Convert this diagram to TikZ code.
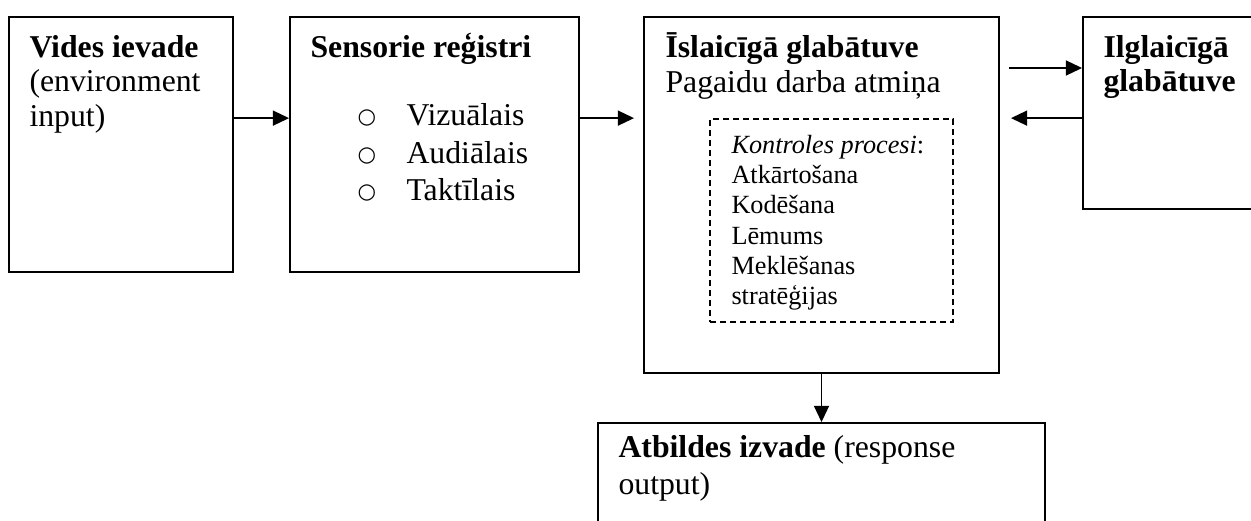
\documentclass[tikz,border=0pt]{standalone}
\usepackage{fontspec}
\setmainfont{Liberation Serif}
\newfontfamily\bulletfont{DejaVu Sans}
\usetikzlibrary{arrows.meta,fit}
\begin{document}
\begin{tikzpicture}[x=0.4pt,y=-0.4pt,
  box/.style={draw, line width=0.75pt, inner sep=0pt},
  dashbox/.style={draw, line width=0.7pt, inner sep=0pt, dash pattern=on 2.4pt off 1.6pt},
  txt/.style={anchor=base west, inner sep=0pt, font=\fontsize{12.7}{14}\selectfont},
  small/.style={anchor=base west, inner sep=0pt, font=\fontsize{10.5}{12}\selectfont},
  bul/.style={anchor=center, inner sep=0pt, font=\fontsize{8.5}{10}\bulletfont},
  arr/.style={-{Triangle[length=6.5pt,width=6pt]}, line width=0.7pt}]
\useasboundingbox (0,0) rectangle (1251,520);
\clip (0,0) rectangle (1251,520);
% boxes
\node[box, fit={(9,17)(233,272)}] (b1) {};
\node[box, fit={(290,17)(579,272)}] (b2) {};
\node[box, fit={(644,17)(999,373)}] (b3) {};
\node[dashbox, fit={(710,119)(953,322)}] (d) {};
\node[box, fit={(1083,17)(1275,209)}] (b4) {};
\node[box, fit={(598,423)(1045,545)}] (b5) {};
% box 1 text
\node[txt] (t11) at (29,57) {\textbf{Vides ievade}};
\node[txt] (t12) at (29,91) {(environment};
\node[txt] (t13) at (29,126) {input)};
% box 2 text
\node[txt] (t21) at (310,57) {\textbf{Sensorie reģistri}};
\node[bul] (o1) at (367,118) {○};
\node[bul] (o2) at (367,156) {○};
\node[bul] (o3) at (367,193) {○};
\node[txt] (t22) at (406,125) {Vizuālais};
\node[txt] (t23) at (406,163) {Audiālais};
\node[txt] (t24) at (406,200) {Taktīlais};
% box 3 text
\node[txt] (t31) at (665,57) {\textbf{Īslaicīgā glabātuve}};
\node[txt] (t32) at (665,92) {Pagaidu darba atmiņa};
\node[small] (k1) at (731,153) {\textit{Kontroles procesi}:};
\node[small] (k2) at (731,183) {Atkārtošana};
\node[small] (k3) at (731,213) {Kodēšana};
\node[small] (k4) at (731,244) {Lēmums};
\node[small] (k5) at (731,274) {Meklēšanas};
\node[small] (k6) at (731,304) {stratēģijas};
% box 4 text
\node[txt] (t41) at (1103,57) {\textbf{Ilglaicīgā}};
\node[txt] (t42) at (1103,91) {\textbf{glabātuve}};
% box 5 text
\node[txt] (t51) at (618,457) {\textbf{Atbildes izvade} (response};
\node[txt] (t52) at (618,494) {output)};
% connectors
\coordinate (upper) at (0,68);
\draw[arr] (b1.east |- d.north) -- (b2.west |- d.north);
\draw[arr, shorten >=3.6pt] (b2.east |- d.north) -- (b3.west |- d.north);
\draw[arr, shorten <=3.6pt] (b3.east |- upper) -- (b4.west |- upper);
\draw[arr, shorten >=4.4pt] (b4.west |- d.north) -- (b3.east |- d.north);
\draw[arr] (b3.south) -- (b3.south |- b5.north);
\end{tikzpicture}
\end{document}
